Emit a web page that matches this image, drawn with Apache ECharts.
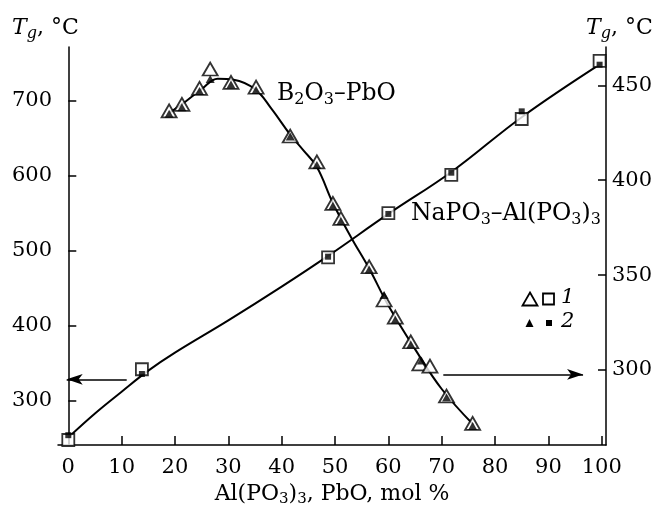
<!DOCTYPE html>
<html><head><meta charset="utf-8">
<script src="https://cdn.jsdelivr.net/npm/echarts@6/dist/echarts.min.js"></script>
<style>html,body{margin:0;padding:0;background:#fff}#c{width:656px;height:505px}</style>
</head><body><div id="c"></div>
<script>
// ---- data ----
const xTicks = [0, 10, 20, 30, 40, 50, 60, 70, 80, 90, 100];
const leftTicks = [300, 400, 500, 600, 700];
const rightTicks = [300, 350, 400, 450];

// NaPO3–Al(PO3)3 (left axis)
const sqX = [0, 13.8, 48.7, 60.0, 71.8, 85.0, 99.6];
const sqOpen = [247.6, 341.9, 491, 550, 601, 675.6, 753];
const sqFilled = [254, 335.6, 492, 549, 604, 685.8, 748];
const sqFitX = [0, 5, 10, 15, 20, 30, 40, 48.7, 60, 72, 85, 100];
const sqFitY = [251, 283, 312, 340, 364, 407, 452, 493, 549, 606, 678, 750];

// B2O3–PbO (right axis)
const triX = [18.9, 21.3, 24.6, 26.6, 30.5, 35.2, 41.6, 46.6, 49.6, 51.1, 56.4, 59.2, 61.3, 64.2, 65.9, 67.8, 70.9, 75.8];
const triOpen = [436.5, 440.0, 448.4, 458.6, 451.6, 449.0, 423.3, 409.7, 387.8, 379.9, 354.4, 336.9, 327.9, 314.9, 303.2, 302.1, 286.3, 271.9];
const triFilledX = [18.9, 21.3, 24.6, 26.6, 30.5, 35.2, 41.6, 46.6, 49.6, 51.1, 56.4, 59.2, 61.3, 64.2, 66.2, 70.9, 75.8];
const triFilled = [435, 438.5, 447, 453.3, 450.5, 447.5, 423, 408, 386.5, 378.5, 353, 339.5, 326.5, 313.5, 305, 285.5, 270.5];
const triFitX = [18.9, 22, 25, 28, 31, 35, 38, 41.6, 44, 46.6, 49.6, 53, 56.4, 60, 65, 70, 76];
const triFitY = [435.5, 441.5, 448, 453.5, 453, 448, 438, 424, 416, 407, 388, 370, 353.5, 334, 311, 290, 271];

// arrows (annotation, in data units)
const leftArrow = {x0: 10.95, x1: -0.3, y: 328.5};
const rightArrow = {x0: 70.3, x1: 96.5, y: 297.7};

// ---- chart ----
const F = 'DejaVu Serif';
const zip = (a, b) => a.map((v, i) => [v, b[i]]);
const axisLineStyle = {color: '#000', width: 1.5};

const chart = echarts.init(document.getElementById('c'), null, {renderer: 'canvas'});
const subRich = {
  n: {fontFamily: F, fontSize: 22, color: '#000'},
  i: {fontFamily: F, fontSize: 22, fontStyle: 'italic', color: '#000'},
  s: {fontFamily: F, fontSize: 15, color: '#000', padding: [10, 0, 0, 0]},
  si: {fontFamily: F, fontSize: 16, fontStyle: 'italic', color: '#000', padding: [12, 0, 0, 0]}
};
const annRich = {
  n: {fontFamily: F, fontSize: 23.5, color: '#000'},
  s: {fontFamily: F, fontSize: 16, color: '#000', padding: [11, 0, 0, 0]}
};

chart.setOption({
  animation: false,
  backgroundColor: '#fff',
  grid: {left: 58, right: 50, top: 47, bottom: 60, containLabel: false, outerBoundsMode: 'none'},
  xAxis: {
    type: 'value', min: -1.93, max: 100.8,
    axisLine: {show: true, lineStyle: axisLineStyle},
    axisTick: {show: true, inside: true, length: 9, customValues: xTicks, lineStyle: axisLineStyle},
    axisLabel: {customValues: xTicks, fontFamily: F, fontSize: 21, color: '#000', margin: 12},
    splitLine: {show: false},
    name: '{n|Al(PO}{s|3}{n|)}{s|3}{n|, PbO, mol %}',
    nameLocation: 'middle', nameGap: 34,
    nameTextStyle: {rich: subRich}
  },
  yAxis: [{
    type: 'value', position: 'left', min: 240.9, max: 771.6,
    axisLine: {show: true, lineStyle: axisLineStyle},
    axisTick: {show: true, inside: true, length: 8, customValues: leftTicks, lineStyle: axisLineStyle},
    axisLabel: {customValues: leftTicks, fontFamily: F, fontSize: 21, color: '#000', margin: 6},
    splitLine: {show: false}
  }, {
    type: 'value', position: 'right', min: 260.5, max: 470.2,
    axisLine: {show: true, lineStyle: axisLineStyle},
    axisTick: {show: true, inside: true, length: 8, customValues: rightTicks, lineStyle: axisLineStyle},
    axisLabel: {customValues: rightTicks, fontFamily: F, fontSize: 21, color: '#000', margin: 6},
    splitLine: {show: false}
  }],
  series: [
    {
      type: 'line', yAxisIndex: 0, data: zip(sqFitX, sqFitY), smooth: 0.4, showSymbol: false,
      lineStyle: {color: '#000', width: 2}, z: 2, silent: true,
      markLine: {
        silent: true, symbol: ['none', 'arrow'], symbolSize: [8, 16], label: {show: false},
        lineStyle: {color: '#000', width: 1.5, type: 'solid'},
        data: [[{coord: [leftArrow.x0, leftArrow.y]}, {coord: [leftArrow.x1, leftArrow.y]}]]
      }
    },
    {
      type: 'line', yAxisIndex: 1, data: zip(triFitX, triFitY), smooth: 0.4, showSymbol: false,
      lineStyle: {color: '#000', width: 2}, z: 2, silent: true,
      markLine: {
        silent: true, symbol: ['none', 'arrow'], symbolSize: [8, 16], label: {show: false},
        lineStyle: {color: '#000', width: 1.5, type: 'solid'},
        data: [[{coord: [rightArrow.x0, rightArrow.y]}, {coord: [rightArrow.x1, rightArrow.y]}]]
      }
    },
    {
      type: 'scatter', yAxisIndex: 0, data: zip(sqX, sqOpen), symbol: 'rect', symbolSize: 12,
      itemStyle: {color: '#fff', borderColor: '#000', borderWidth: 1.8}, z: 3
    },
    {
      type: 'scatter', yAxisIndex: 0, data: zip(sqX, sqFilled), symbol: 'rect', symbolSize: 6,
      itemStyle: {color: '#000'}, z: 4
    },
    {
      type: 'scatter', yAxisIndex: 1, data: zip(triX, triOpen), symbol: 'triangle', symbolSize: [15, 13],
      itemStyle: {color: '#fff', borderColor: '#000', borderWidth: 1.8}, z: 3
    },
    {
      type: 'scatter', yAxisIndex: 1, data: zip(triFilledX, triFilled), symbol: 'triangle', symbolSize: [9, 8],
      itemStyle: {color: '#000'}, z: 4
    }
  ],
  graphic: [
    {type: 'text', left: 12, top: 17, style: {text: '{i|T}{si|g}{n|, °C}', rich: subRich}},
    {type: 'text', left: 586, top: 17, style: {text: '{i|T}{si|g}{n|, °C}', rich: subRich}},
    {type: 'text', left: 277, top: 82, style: {text: '{n|B}{s|2}{n|O}{s|3}{n|–PbO}', rich: annRich}},
    {type: 'text', left: 411, top: 202, style: {text: '{n|NaPO}{s|3}{n|–Al(PO}{s|3}{n|)}{s|3}', rich: annRich}},
    // legend
    {type: 'polygon', shape: {points: [[530, 292.5], [537.5, 305.5], [522.5, 305.5]]}, style: {fill: '#fff', stroke: '#000', lineWidth: 1.8}},
    {type: 'rect', shape: {x: 543, y: 293.5, width: 11, height: 11}, style: {fill: '#fff', stroke: '#000', lineWidth: 1.8}},
    {type: 'text', left: 561, top: 287, style: {text: '1', fontFamily: F, fontSize: 21, fontStyle: 'italic', fill: '#000'}},
    {type: 'polygon', shape: {points: [[529.5, 319], [533.5, 327], [525.5, 327]]}, style: {fill: '#000'}},
    {type: 'rect', shape: {x: 546, y: 320, width: 6, height: 6}, style: {fill: '#000'}},
    {type: 'text', left: 561, top: 311, style: {text: '2', fontFamily: F, fontSize: 21, fontStyle: 'italic', fill: '#000'}}
  ]
});
</script>
</body></html>
